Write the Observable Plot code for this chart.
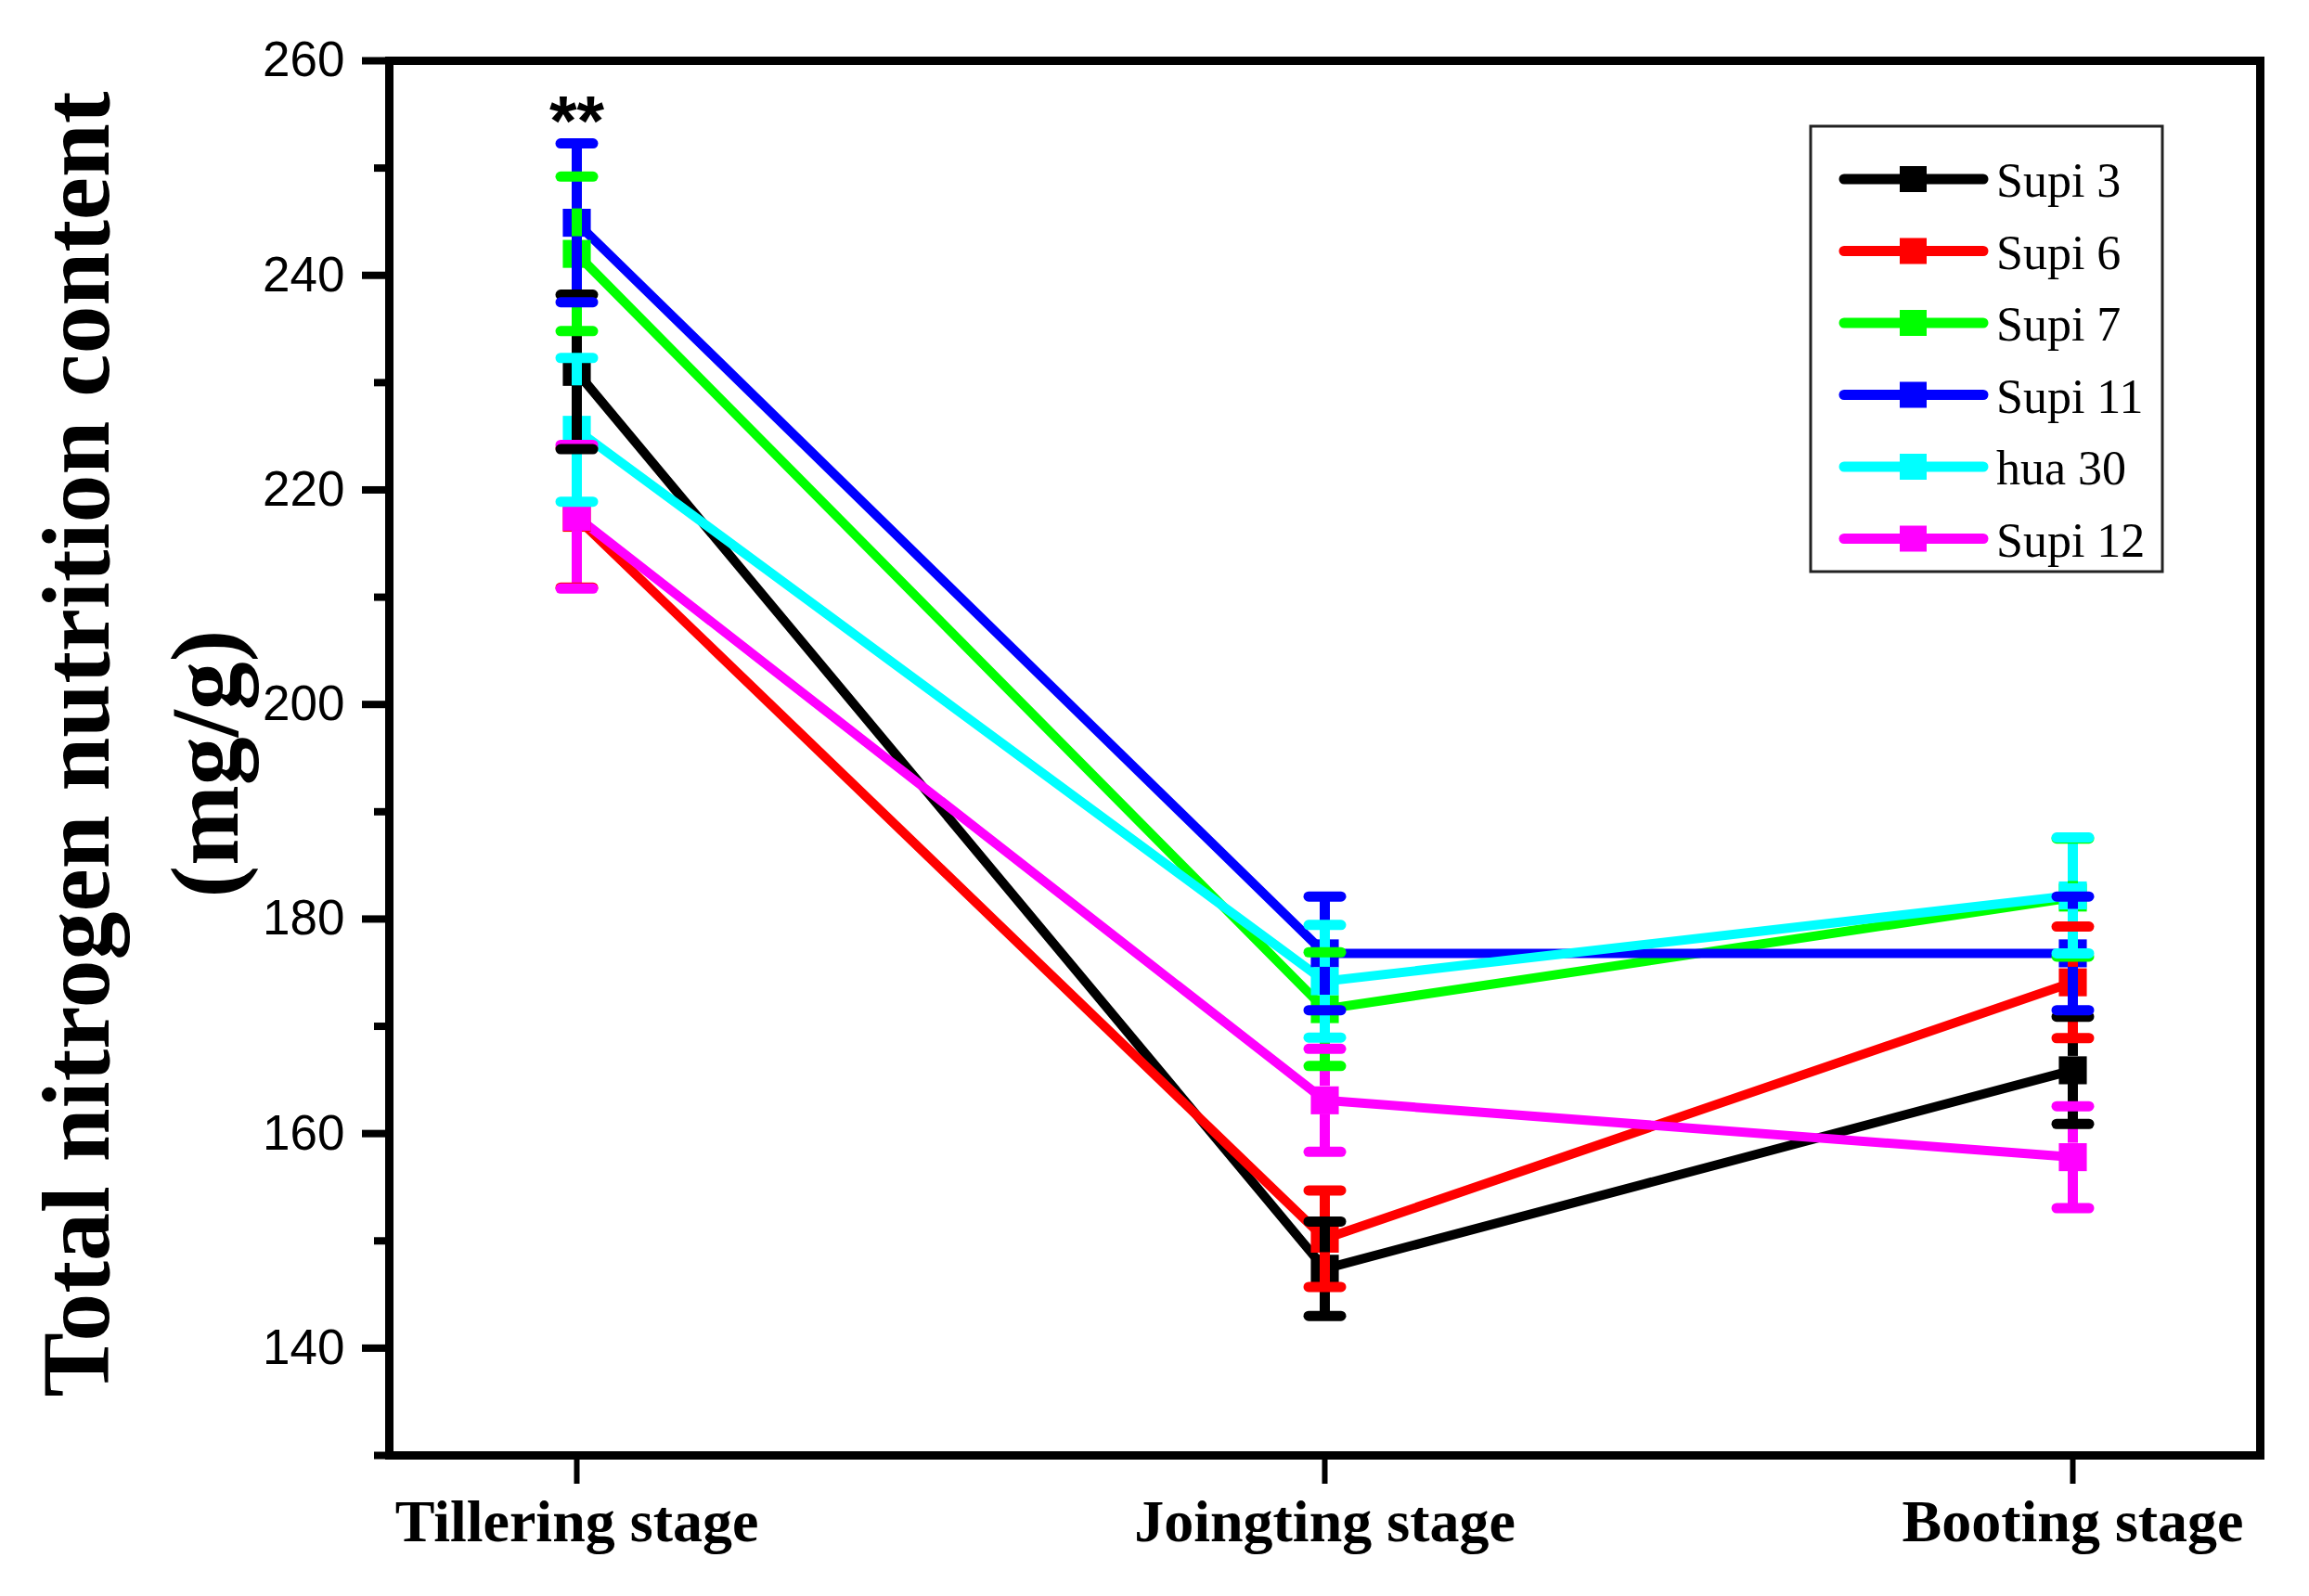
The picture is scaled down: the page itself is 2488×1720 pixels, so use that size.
<!DOCTYPE html>
<html><head><meta charset="utf-8">
<script src="https://cdn.jsdelivr.net/npm/d3@7"></script>
<script src="https://cdn.jsdelivr.net/npm/@observablehq/plot@0.6"></script>
<style>
html,body{margin:0;padding:0;background:#fff;}
#chart{position:relative;width:2488px;height:1720px;}
</style>
</head><body><div id="chart"></div>
<script>
// ---- data ----
const stages = ["Tillering stage", "Joingting stage", "Booting stage"];
const series = ["Supi 3", "Supi 6", "Supi 7", "Supi 11", "hua 30", "Supi 12"];
const colors = ["#000000", "#ff0000", "#00ff00", "#0000ff", "#00ffff", "#ff00ff"];
const supi3   = [231.0, 147.4, 165.9];
const supi6   = [217.4, 150.2, 174.1];
const supi7   = [242.0, 171.6, 182.0];
const supi11  = [244.9, 176.8, 176.8];
const hua30   = [225.6, 174.2, 182.2];
const supi12  = [217.5, 163.1, 157.8];
const supi3Err  = [7.2, 4.4, 5.0];
const supi6Err  = [6.5, 4.5, 5.2];
const supi7Err  = [7.2, 5.3, 5.5];
const supi11Err = [7.4, 5.3, 5.3];
const hua30Err  = [6.7, 5.25, 5.4];
const supi12Err = [6.7, 4.8, 4.75];
const majorTicks = [140, 160, 180, 200, 220, 240, 260];
const minorTicks = [130, 150, 170, 190, 210, 230, 250];
const annotations = [{stage: "Tillering stage", value: 254.3, label: "**"}];
const yTitle = ["Total nitrogen nutrition content", "(mg/g)"];

const means = [supi3, supi6, supi7, supi11, hua30, supi12];
const errs = [supi3Err, supi6Err, supi7Err, supi11Err, hua30Err, supi12Err];
const rows = [];
series.forEach((s, si) => stages.forEach((st, ti) => {
  const m = means[si][ti], e = errs[si][ti];
  rows.push({series: s, stage: st, mean: m, lo: m - e, hi: m + e});
}));

const W = 2488, H = 1720;
const serif = "'Liberation Serif', 'Times New Roman', serif";
const sans = "'Liberation Sans', Arial, sans-serif";

// horizontal cap symbol for error bars
const capSymbol = {
  draw(context, size) {
    const hw = Math.sqrt(size / Math.PI);
    context.moveTo(-hw, 0);
    context.lineTo(hw, 0);
  }
};

const plot = Plot.plot({
  width: W, height: H,
  marginLeft: 419, marginRight: 53, marginTop: 65, marginBottom: 152,
  style: {background: "white", overflow: "visible", color: "black"},
  x: {type: "point", domain: stages, padding: 0.25, label: null},
  y: {domain: [130, 260], label: null},
  color: {domain: series, range: colors},
  marks: [
    Plot.axisY({ticks: minorTicks, tickSize: 16, strokeWidth: 8, tickFormat: () => "", label: null}),
    Plot.axisY({ticks: majorTicks, tickSize: 29, tickPadding: 19, strokeWidth: 8,
      fontSize: 53, fontFamily: sans, tickFormat: d => String(d), label: null}),
    Plot.axisX({tickSize: 31, tickPadding: 16, strokeWidth: 6, fontSize: 64,
      fontFamily: serif, fontWeight: "bold", label: null}),
    Plot.frame({stroke: "black", strokeWidth: 9}),
    Plot.line(rows, {x: "stage", y: "mean", z: "series", stroke: "series", strokeWidth: 10, strokeLinecap: "round"}),
    Plot.dot(rows, {x: "stage", y: "mean", fill: "series", symbol: "square", r: 17, stroke: null}),
    Plot.ruleX(rows, {x: "stage", y1: "hi", y2: "mean", insetBottom: 15, stroke: "series", strokeWidth: 11}),
    Plot.ruleX(rows, {x: "stage", y1: "mean", y2: "lo", insetTop: 15, stroke: "series", strokeWidth: 11}),
    Plot.dot(rows, {x: "stage", y: "hi", symbol: capSymbol, r: 17.5, stroke: "series", strokeWidth: 11, strokeLinecap: "round", fill: "none"}),
    Plot.dot(rows, {x: "stage", y: "lo", symbol: capSymbol, r: 17.5, stroke: "series", strokeWidth: 11, strokeLinecap: "round", fill: "none"}),
    Plot.text(annotations, {x: "stage", y: "value", text: "label", fontSize: 76, fontWeight: "bold", fontFamily: sans, fill: "black"})
  ]
});
document.getElementById("chart").appendChild(plot);

const svg = d3.select(plot);
// y axis title (two lines)
svg.append("text")
  .attr("transform", "translate(117,802) rotate(-90)")
  .attr("text-anchor", "middle")
  .attr("font-family", serif).attr("font-weight", "bold").attr("font-size", 104)
  .attr("fill", "black").text(yTitle[0]);
svg.append("text")
  .attr("transform", "translate(256,823) rotate(-90)")
  .attr("text-anchor", "middle")
  .attr("font-family", serif).attr("font-weight", "bold").attr("font-size", 104)
  .attr("fill", "black").text(yTitle[1]);

// legend
const lg = svg.append("g");
lg.append("rect").attr("x", 1951).attr("y", 136).attr("width", 379).attr("height", 480)
  .attr("fill", "white").attr("stroke", "#222").attr("stroke-width", 3);
series.forEach((s, i) => {
  const cy = 193 + i * 77.5;
  lg.append("line").attr("x1", 1987).attr("x2", 2137).attr("y1", cy).attr("y2", cy)
    .attr("stroke", colors[i]).attr("stroke-width", 11).attr("stroke-linecap", "round");
  lg.append("rect").attr("x", 2047).attr("y", cy - 14).attr("width", 29).attr("height", 28)
    .attr("fill", colors[i]);
  lg.append("text").attr("x", 2151).attr("y", cy + 19).attr("text-anchor", "start")
    .attr("font-family", serif).attr("font-size", 52).attr("fill", "black").text(s);
});
</script>
</body></html>
